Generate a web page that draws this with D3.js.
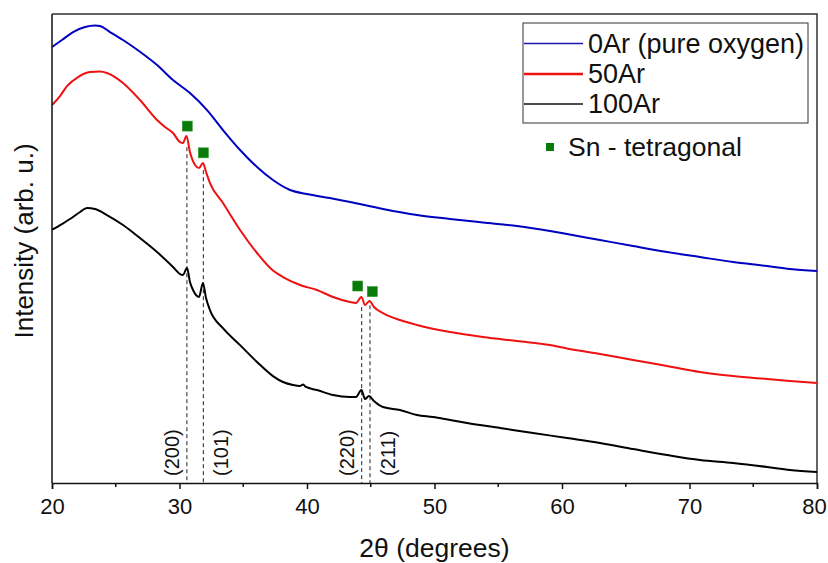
<!DOCTYPE html>
<html><head><meta charset="utf-8">
<script src="https://cdn.jsdelivr.net/npm/d3@7"></script>
<style>body{margin:0;background:#fff} svg{display:block} text{font-family:"Liberation Sans",Arial,sans-serif;fill:#111}</style>
</head><body><svg id="c" width="828" height="563"></svg>
<script>
// ---------- data ----------
const seriesNames = ["0Ar (pure oxygen)", "50Ar", "100Ar"];
const seriesColors = ["#0000c0", "#ee1111", "#000000"];

const theta0Ar = [20.0,20.78,21.65,22.59,23.37,23.76,24.55,25.57,26.90,28.24,29.49,30.82,32.16,33.41,34.75,36.08,37.33,38.67,40.0,41.80,43.37,45.96,48.63,51.22,53.80,56.47,59.06,60.39,62.98,65.57,68.24,70.82,73.41,76.08,77.88,80.0];
const int0Ar   = [92.96,94.45,96.15,97.22,97.54,97.43,96.15,94.45,91.95,89.12,85.92,83.15,79.52,75.26,71.0,67.37,64.60,62.47,61.61,60.76,59.91,58.42,57.14,56.3,55.55,54.79,53.73,53.09,51.81,50.53,49.25,48.18,47.12,46.26,45.62,45.20];

const theta50Ar = [20.0,20.63,21.18,22.04,22.98,23.76,24.31,24.94,25.57,26.90,28.24,28.86,29.49,30.04,30.27,30.55,30.82,31.22,31.53,31.84,32.08,32.39,33.41,34.75,36.08,37.33,38.12,39.45,40.78,42.04,43.37,43.84,44.27,44.55,44.90,45.25,45.96,47.29,48.63,51.22,53.80,56.47,59.06,60.39,62.98,65.57,68.24,70.82,73.41,76.08,77.88,80.0];
const int50Ar   = [80.59,82.51,84.64,86.56,87.63,87.73,87.41,86.56,85.28,81.66,77.39,75.90,74.62,72.70,72.49,73.98,70.57,67.80,67.16,68.22,66.31,63.96,59.70,53.94,49.04,45.3,43.92,42.21,41.15,39.66,38.59,38.38,39.66,37.95,38.80,37.52,36.24,34.75,33.69,32.19,31.13,30.27,29.42,28.7,27.50,26.22,24.94,23.67,22.81,22.17,21.75,21.32];

const theta100Ar = [20.0,20.78,21.65,22.20,22.75,23.37,24.31,25.57,26.90,28.24,29.49,30.04,30.27,30.59,30.82,31.06,31.53,31.84,32.08,32.39,33.41,34.75,36.08,37.33,38.12,38.90,39.45,39.69,39.92,40.78,42.04,43.37,43.84,44.27,44.55,44.86,45.25,45.96,47.29,48.63,49.88,51.22,52.55,55.14,57.73,60.39,62.98,65.57,68.24,70.82,73.41,76.08,77.88,80.0];
const int100Ar   = [54.0,55.22,56.71,57.78,58.63,58.42,57.14,55.01,52.23,49.25,46.05,44.56,44.35,45.84,42.85,41.15,39.66,42.64,39.44,36.88,33.0,29.4,25.80,22.80,21.53,20.89,20.68,21.0,20.47,19.83,18.76,18.34,18.34,19.83,17.91,18.55,17.48,16.20,15.56,14.50,14.07,13.43,12.79,11.73,10.66,9.59,8.53,7.25,5.97,4.90,4.26,3.41,2.77,2.35];

const peakTheta   = [30.58, 31.87, 44.29, 44.94];
const peakTopInt  = [71.6, 66.7, 37.5, 37.9];
const peakLabels  = ["(200)", "(101)", "(220)", "(211)"];
const peakSide    = [-1, 1, -1, 1];

const markerTheta = [30.61, 31.87, 43.98, 45.12];
const markerInt   = [76.1, 70.4, 42.0, 40.8];

const xTicks      = [20, 30, 40, 50, 60, 70, 80];
const xMinorTicks = [25, 35, 45, 55, 65, 75];
const xTitle = "2θ (degrees)";
const yTitle = "Intensity (arb. u.)";
const markerLabel = "Sn - tetragonal";

// ---------- chart ----------
const svg = d3.select("#c");
const L = 52, R = 817, T = 14, B = 483;
const x = d3.scaleLinear().domain([20, 80]).range([L, R]);
const y = d3.scaleLinear().domain([0, 100]).range([B, T]);

const series = [
  {xs: theta0Ar, ys: int0Ar},
  {xs: theta50Ar, ys: int50Ar},
  {xs: theta100Ar, ys: int100Ar}
];

// frame (top & right)
svg.append("path")
  .attr("d", `M${L},${T}H${R}V${B}`)
  .attr("fill", "none").attr("stroke", "#333").attr("stroke-width", 1.5);

// dashed peak lines
svg.append("g").selectAll("line").data(peakTheta).join("line")
  .attr("x1", d => x(d)).attr("x2", d => x(d))
  .attr("y1", (d, i) => y(peakTopInt[i])).attr("y2", B)
  .attr("stroke", "#222").attr("stroke-width", 1).attr("stroke-dasharray", "4,3");

svg.append("g").selectAll("text").data(peakTheta).join("text")
  .attr("transform", (d, i) => `translate(${x(d) + (peakSide[i] < 0 ? -15 : 18)},${476}) rotate(-90)`)
  .attr("dominant-baseline", "central")
  .attr("font-size", 20)
  .text((d, i) => peakLabels[i]);

// curves
const line = d3.line().curve(d3.curveMonotoneX);
series.forEach((s, k) => {
  svg.append("path")
    .attr("d", line(s.xs.map((t, i) => [x(t), y(s.ys[i])])))
    .attr("fill", "none").attr("stroke", seriesColors[k])
    .attr("stroke-width", 2).attr("stroke-linejoin", "round");
});

// markers
svg.append("g").selectAll("rect").data(markerTheta).join("rect")
  .attr("x", d => x(d) - 5).attr("y", (d, i) => y(markerInt[i]) - 5)
  .attr("width", 10).attr("height", 10)
  .attr("fill", "#0a7a0a").attr("stroke", "#2e9a2e").attr("stroke-width", 0.6);

// x axis
const xa = svg.append("g").attr("transform", `translate(0,${B})`)
  .call(d3.axisBottom(x).tickValues(xTicks).tickSize(6).tickPadding(9).tickFormat(d3.format("d")));
xa.select(".domain").attr("stroke", "#111").attr("stroke-width", 1.5);
xa.selectAll(".tick line").attr("stroke", "#111").attr("stroke-width", 1.5);
xa.selectAll("text").attr("font-size", 22).attr("fill", "#111")
  .style("font-family", '"Liberation Sans",Arial,sans-serif');
xa.selectAll(".tick text").filter(d => d === 80).attr("dx", -3);
svg.append("g").selectAll("line").data(xMinorTicks).join("line")
  .attr("x1", d => x(d)).attr("x2", d => x(d)).attr("y1", B).attr("y2", B + 4)
  .attr("stroke", "#111").attr("stroke-width", 1.5);

// y axis line
svg.append("line").attr("x1", L).attr("x2", L).attr("y1", T).attr("y2", B)
  .attr("stroke", "#111").attr("stroke-width", 1.5);

// titles
svg.append("text").attr("x", (L + R) / 2).attr("y", 557)
  .attr("text-anchor", "middle").attr("font-size", 26.5).text(xTitle);
svg.append("text").attr("transform", `translate(33,${241}) rotate(-90)`)
  .attr("text-anchor", "middle").attr("font-size", 26).text(yTitle);

// legend
const lg = svg.append("g");
lg.append("rect").attr("x", 523).attr("y", 23).attr("width", 285).attr("height", 100)
  .attr("fill", "#fff").attr("stroke", "#333").attr("stroke-width", 1);
const rowY = [43.5, 74, 104];
const lw = [1.5, 2.4, 1.3];
const lc = ["#1a1ab0", "#ee1111", "#111"];
seriesNames.forEach((n, i) => {
  lg.append("line").attr("x1", 524).attr("x2", 583).attr("y1", rowY[i]).attr("y2", rowY[i])
    .attr("stroke", lc[i]).attr("stroke-width", lw[i]);
  lg.append("text").attr("x", 588).attr("y", rowY[i]).attr("dominant-baseline", "central")
    .attr("font-size", 27).text(n);
});
lg.append("rect").attr("x", 546).attr("y", 143).attr("width", 8).attr("height", 8).attr("fill", "#0a7a0a");
lg.append("text").attr("x", 568).attr("y", 147).attr("dominant-baseline", "central")
  .attr("font-size", 26.5).text(markerLabel);
</script></body></html>
